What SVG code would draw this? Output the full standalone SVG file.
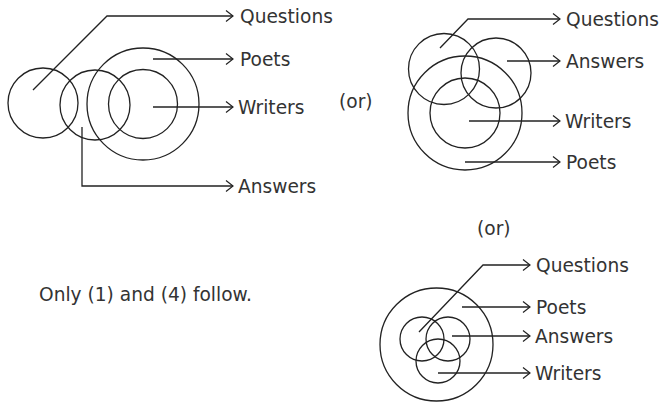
<svg xmlns="http://www.w3.org/2000/svg" width="659" height="403" viewBox="0 0 659 403">
<defs>
<marker id="arr" viewBox="0 0 10 12" refX="9" refY="6" markerWidth="10" markerHeight="12" markerUnits="userSpaceOnUse" orient="auto">
<path d="M2,0.5 L9,6 L2,11.5" fill="none" stroke="#222" stroke-width="1.2"/>
</marker>
</defs>
<style>
.c{fill:none;stroke:#222;stroke-width:1.3}
.l{fill:none;stroke:#222;stroke-width:1.3;marker-end:url(#arr)}
text{font-family:"DejaVu Sans",Verdana,sans-serif;font-size:18.6px;fill:#333}
</style>
<rect width="659" height="403" fill="#fff"/>
<g id="diagram1">
<circle id="d1-questions" class="c" cx="43" cy="103" r="35"/>
<circle id="d1-answers" class="c" cx="95" cy="105" r="35"/>
<circle id="d1-poets" class="c" cx="143" cy="104" r="56"/>
<circle id="d1-writers" class="c" cx="143" cy="104" r="34.5"/>
</g>
<g id="diagram2">
<circle id="d2-questions" class="c" cx="444" cy="69" r="35.5"/>
<circle id="d2-answers" class="c" cx="496" cy="73" r="35"/>
<circle id="d2-poets" class="c" cx="465" cy="113" r="57"/>
<circle id="d2-writers" class="c" cx="465" cy="113" r="35"/>
</g>
<g id="diagram3">
<circle id="d3-poets" class="c" cx="436.5" cy="344.5" r="56.5"/>
<circle id="d3-questions" class="c" cx="422" cy="339" r="22"/>
<circle id="d3-answers" class="c" cx="448" cy="339" r="22"/>
<circle id="d3-writers" class="c" cx="438" cy="361" r="22"/>
</g>
<g id="connectors">
<path class="l" d="M33,90 L107,16 L233,16"/>
<path class="l" d="M153,59 L233,59"/>
<path class="l" d="M153,107 L233,107"/>
<path class="l" d="M82,127 L82,186 L233,186"/>
<path class="l" d="M440,48 L468,19 L560,19"/>
<path class="l" d="M507,61 L560,61"/>
<path class="l" d="M469,121 L560,121"/>
<path class="l" d="M465,162 L560,162"/>
<path class="l" d="M419,332 L483,265 L530,265"/>
<path class="l" d="M462,307 L530,307"/>
<path class="l" d="M452,336 L530,336"/>
<path class="l" d="M438,373 L530,373"/>
</g>
<g id="labels">
<text x="240" y="23">Questions</text>
<text x="240" y="66">Poets</text>
<text x="238" y="114">Writers</text>
<text x="238" y="193">Answers</text>
<text x="566" y="26">Questions</text>
<text x="566" y="68">Answers</text>
<text x="565" y="128">Writers</text>
<text x="566" y="169">Poets</text>
<text x="536" y="272">Questions</text>
<text x="536" y="314">Poets</text>
<text x="535" y="343">Answers</text>
<text x="535" y="380">Writers</text>
<text x="339" y="108">(or)</text>
<text x="477" y="235">(or)</text>
<text x="39" y="301">Only (1) and (4) follow.</text>
</g>
</svg>
